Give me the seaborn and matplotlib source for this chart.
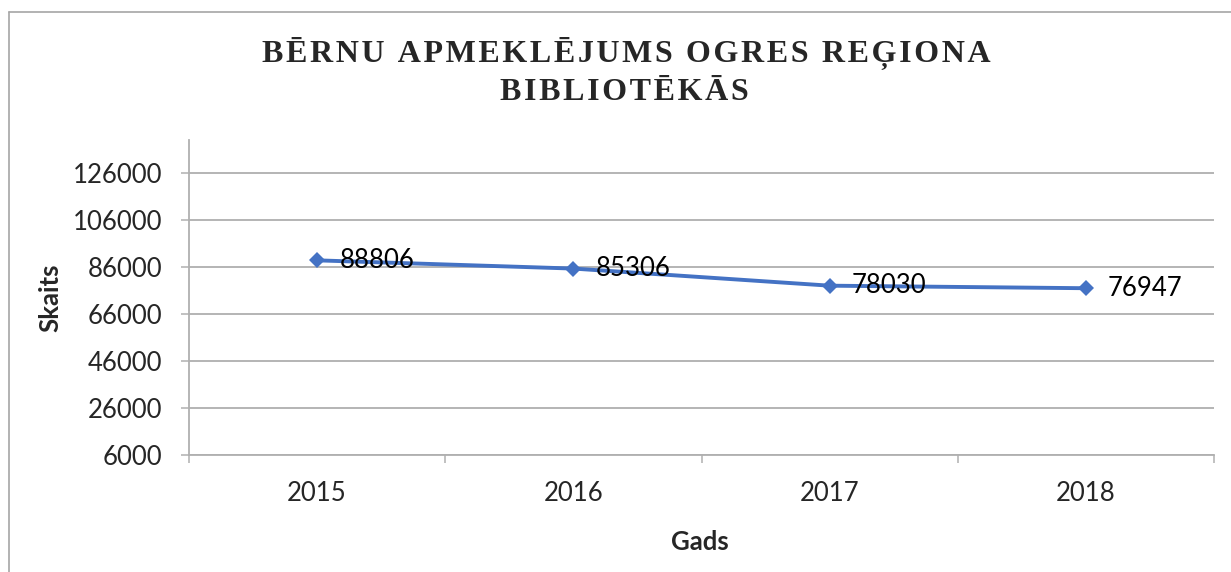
import matplotlib
matplotlib.use('Agg')
import matplotlib.pyplot as plt
import seaborn as sns
import pandas as pd
from matplotlib.lines import Line2D
from matplotlib.ticker import FixedLocator

# chart values
years = ['2015', '2016', '2017', '2018']
visits = [88806, 85306, 78030, 76947]
y_ticks = [6000, 26000, 46000, 66000, 86000, 106000, 126000]
title_lines = ['BĒRNU APMEKLĒJUMS OGRES REĢIONA', 'BIBLIOTĒKĀS']

df = pd.DataFrame({'Gads': years, 'Skaits': visits})

sns.set_style('white')
plt.rcParams['font.family'] = ['Lato', 'DejaVu Sans']

fig = plt.figure(figsize=(12.31, 5.72), dpi=100)
ax = fig.add_axes([189 / 1231, 1 - 455 / 572, 1025 / 1231, 315 / 572])

blue = '#4472C4'
sns.lineplot(data=df, x='Gads', y='Skaits', ax=ax, color=blue, linewidth=2.8,
             marker='D', markersize=8.5, markeredgewidth=0, sort=False)

ax.set_xlim(-0.5, len(years) - 0.5)
ax.set_ylim(6000, 140000)
ax.set_yticks(y_ticks)
ax.set_yticklabels([str(t) for t in y_ticks])
ax.yaxis.grid(True, color='#A0A0A0', linewidth=1.1)
ax.set_axisbelow(True)

# spines
for side in ['top', 'right']:
    ax.spines[side].set_visible(False)
for side in ['left', 'bottom']:
    ax.spines[side].set_color('#B0B0B0')
    ax.spines[side].set_linewidth(1.3)

ax.tick_params(axis='y', length=6, width=1.1, color='#B0B0B0', pad=13,
               labelsize=18.5, left=True)
ax.tick_params(axis='x', which='major', length=0, pad=19, labelsize=18.5)
ax.xaxis.set_minor_locator(FixedLocator([i - 0.5 for i in range(len(years) + 1)]))
ax.tick_params(axis='x', which='minor', length=6, width=1.1, color='#B0B0B0',
               bottom=True)

# data labels
for i, v in enumerate(visits):
    ax.annotate(str(v), (i, v), xytext=(16, 0), textcoords='offset points',
                ha='left', va='center', fontsize=18.5, color='black')

ax.set_xlabel('Gads', fontsize=18.5, fontweight='bold')
ax.set_ylabel('Skaits', fontsize=18.5, fontweight='bold')
ax.xaxis.set_label_coords(0.4985, -0.238)
ax.yaxis.set_label_coords(-0.124, 0.5)

# title, letter spaced
spaced = ['\u200a'.join(line) for line in title_lines]
fig.text(626 / 1231, 1 - 62 / 572, spaced[0], ha='center', va='baseline',
         fontsize=23, fontweight='bold', family=['Liberation Serif', 'DejaVu Serif'])
fig.text(624 / 1231, 1 - 100 / 572, spaced[1], ha='center', va='baseline',
         fontsize=23, fontweight='bold', family=['Liberation Serif', 'DejaVu Serif'])

# chart border (only left and top visible in the crop)
fig.add_artist(Line2D([9 / 1231, 9 / 1231], [0, 1 - 12 / 572], transform=fig.transFigure,
                      color='#A6A6A6', linewidth=1.2))
fig.add_artist(Line2D([9 / 1231, 1], [1 - 12 / 572, 1 - 12 / 572], transform=fig.transFigure,
                      color='#A6A6A6', linewidth=1.2))

fig.savefig('out.png', dpi=100, facecolor='white')
